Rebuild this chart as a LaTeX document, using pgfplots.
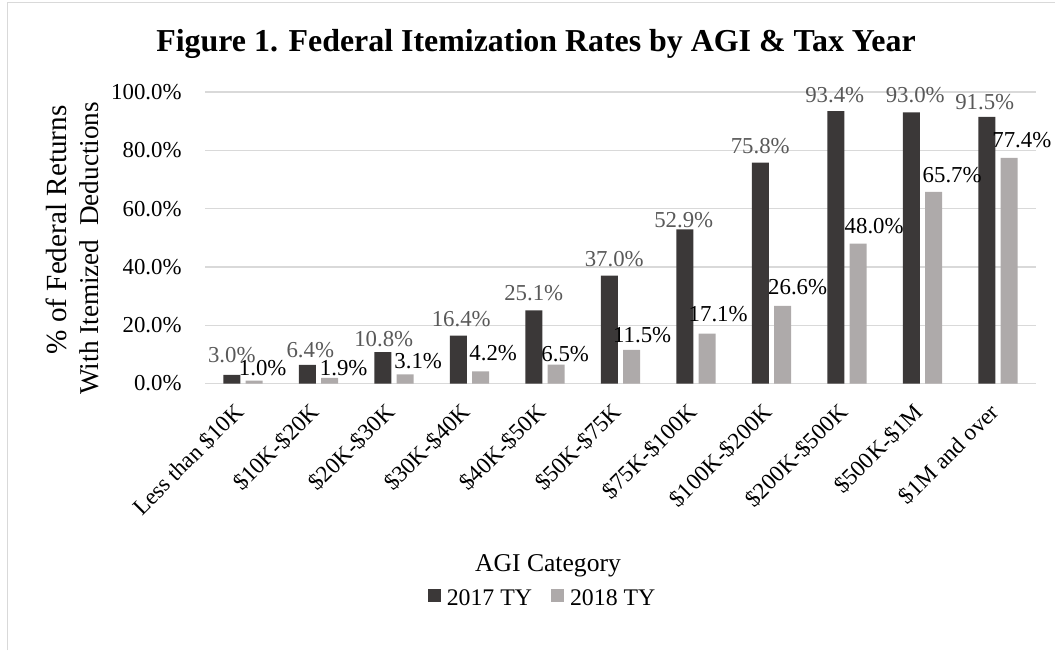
\documentclass[border=0pt]{standalone}
\usepackage{fontspec}
\setmainfont{Liberation Serif}
\usepackage{pgfplots}
\pgfplotsset{compat=1.18}
\usepackage{pgfplotstable}

\definecolor{bardark}{HTML}{3B3838}
\definecolor{barlight}{HTML}{AEAAAA}
\definecolor{gridgray}{HTML}{D9D9D9}
\definecolor{labelgray}{HTML}{595959}

% value, label offset (px) from the top of the bar
\pgfplotstableread{
x y dx dy
0 3.0 0 20
1 6.4 3 15
2 10.8 1 13
3 16.4 3 17
4 25.1 0 17
5 37.0 5 17
6 52.9 -1 9
7 75.8 0 16.5
8 93.4 -1 16
9 93.0 4 17
10 91.5 -2 15
}\tyseventeen

\pgfplotstableread{
x y dx dy
0 1.0 8.5 12.6
1 1.9 14 10
2 3.1 13 13
3 4.2 12.5 18
4 6.5 9 10
5 11.5 10.5 15
6 17.1 11 20
7 26.6 15 19
8 48.0 16 18
9 65.7 18.5 17
10 77.4 12.7 18
}\tyeighteen

\begin{document}
\begin{tikzpicture}
\useasboundingbox (0,0) rectangle (527.5pt,325pt);
\begin{axis}[
    at={(102.6pt,133.25pt)}, anchor=south west,
    scale only axis, width=415.25pt, height=145.75pt,
    xmin=-0.5, xmax=10.5, ymin=0, ymax=100,
    ybar, bar width=8.5pt,
    xtick={0,...,10},
    xticklabels={Less than \$10K,\$10K-\$20K,\$20K-\$30K,\$30K-\$40K,\$40K-\$50K,\$50K-\$75K,\$75K-\$100K,\$100K-\$200K,\$200K-\$500K,\$500K-\$1M,\$1M and over},
    ytick={0,20,...,100},
    yticklabels={0.0\%,20.0\%,40.0\%,60.0\%,80.0\%,100.0\%},
    ymajorgrids, grid style={gridgray, line width=0.6pt},
    axis x line*=bottom, axis y line*=left,
    x axis line style={gridgray, line width=0.7pt, -},
    y axis line style={draw=none},
    major tick length=0pt,
    clip=false,
    xticklabel style={font=\fontsize{11.6}{13}\selectfont, inner sep=0pt, xshift=-1.5pt, yshift=-12.25pt, rotate=45, anchor=east},
    yticklabel style={font=\fontsize{11.4}{13}\selectfont, inner sep=0pt, xshift=-11.65pt, anchor=east},
    legend style={at={(0.405,-0.739)}, anchor=center, draw=none, fill=none, inner sep=0pt,
        font=\fontsize{11.9}{14}\selectfont, nodes={inner sep=0pt},
        /tikz/every odd column/.append style={column sep=3pt},
        /tikz/every even column/.append style={column sep=9.5pt}},
    legend columns=2,
    legend image code/.code={\fill[#1] (0pt,-1.5pt) rectangle (6.5pt,5.2pt);},
    point meta=y,
    nodes near coords={\pgfmathprintnumber[fixed,fixed zerofill,precision=1,assume math mode=true]{\pgfplotspointmeta}\%},
    visualization depends on={\thisrow{dx} \as \ldx},
    visualization depends on={\thisrow{dy} \as \ldy},
    every node near coord/.append style={anchor=center, inner sep=0pt,
        font=\fontsize{11.4}{13}\selectfont, xshift=\ldx*0.5pt, yshift=\ldy*0.5pt},
]
\addplot[fill=bardark, draw=none, bar shift=-5.6pt,
    every node near coord/.append style={labelgray}] table[x=x, y=y] {\tyseventeen};
\addlegendentry{2017 TY}
\addplot[fill=barlight, draw=none, bar shift=5.6pt,
    every node near coord/.append style={black}] table[x=x, y=y] {\tyeighteen};
\addlegendentry{2018 TY}
\end{axis}

\node[anchor=base, font=\fontsize{15.95}{19}\selectfont\bfseries] at (268pt,299.15pt)
    {Figure 1. Federal Itemization Rates by AGI \& Tax Year};
\node[anchor=base, rotate=90, inner sep=0pt, font=\fontsize{14.6}{17}\selectfont] at (33.35pt,210pt)
    {\% of Federal Returns};
\node[anchor=base, rotate=90, inner sep=0pt, font=\fontsize{13.6}{16}\selectfont] at (49.15pt,200.85pt)
    {With Itemized\ \ Deductions};
\node[anchor=base, inner sep=0pt, font=\fontsize{12.8}{15}\selectfont] at (274pt,39.15pt)
    {AGI Category};
\draw[gridgray, line width=0.75pt] (3.75pt,0pt) -- (3.75pt,323.75pt) -- (527.5pt,323.75pt);
\end{tikzpicture}
\end{document}
